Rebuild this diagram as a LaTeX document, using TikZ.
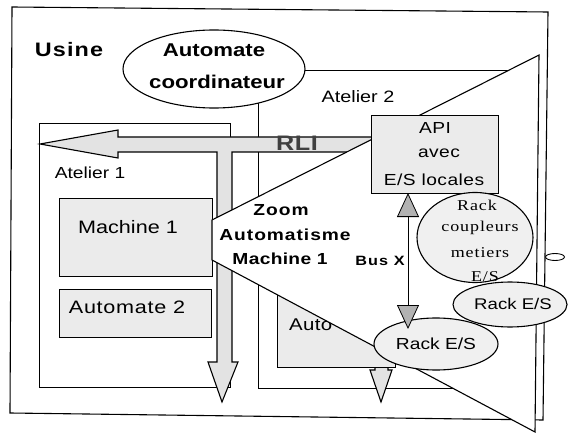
\documentclass[tikz,border=0pt]{standalone}
\usepackage{fontspec}
\setmainfont{Liberation Sans}[FakeStretch=1.2]
\newfontfamily\serfont{Liberation Serif}[FakeStretch=1.2]
\usetikzlibrary{arrows.meta,shapes.geometric}
\newcommand\txf[2]{\fontsize{#1}{#1}\selectfont\addfontfeatures{LetterSpace=#2}}
\begin{document}
\begin{tikzpicture}[x=1pt,y=-1pt,
  ln/.style={line width=1.1pt},
  box/.style={draw, ln, anchor=north west, inner sep=0pt},
  gbox/.style={box, fill=gray!16},
  ell/.style={draw, ln, ellipse, inner sep=0pt},
  tx/.style={inner sep=0pt, font=#1},
  rli/.style={draw, ln, fill=gray!22},
  busx/.style={line width=0.8pt, {Triangle[width=22pt,length=24pt,fill=gray!60]}-{Triangle[width=22pt,length=24pt,fill=gray!60]}}
]
\useasboundingbox (0,0) rectangle (568,433);
% Usine frame
\draw[ln] (12,7) -- (548,12) -- (543,420) -- (10,413) -- cycle;
\node[tx={\bfseries\txf{19.5}{6}}] (usine) at (69,50) {Usine};
% Atelier 2
\node[box, minimum width=275pt, minimum height=318pt] (at2) at (258,70) {};
% Atelier 1
\node[box, minimum width=191pt, minimum height=264pt] (at1) at (39,123) {};
\node[gbox, minimum width=153pt, minimum height=78pt] (m1) at (59,198) {};
\node[gbox, minimum width=152pt, minimum height=48pt] (a2) at (59,289) {};
% coordinator
\node[ell, fill=white, minimum width=182pt, minimum height=78pt] (coord) at (214,69) {};
% RLI bus arrows
\draw[rli] (40,144) -- (118,130) -- (118,137) -- (388,137) -- (388,370) -- (392,370)
  -- (381,402) -- (370,370) -- (375,370) -- (375,152) -- (232,152) -- (232,362)
  -- (238,362) -- (222,402) -- (208,362) -- (217,362) -- (217,152) -- (118,152)
  -- (118,158) -- cycle;
% Automate box in Atelier 2
\node[gbox, minimum width=118pt, minimum height=82pt] (a3) at (277,285) {};
\node[tx={\txf{17}{2}}, anchor=west] (a3t) at (289,325) {Auto};
% zoom cone
\draw[ln, fill=white] (212,220) -- (539,55) -- (535,432) -- (212,260) -- cycle;
% API
\node[gbox, minimum width=127pt, minimum height=78pt] (api) at (371,115) {};
% racks
\node[ell, fill=gray!12, minimum width=116pt, minimum height=90pt] (coupl) at (475,237.5) {};
\node[ell, fill=gray!12, minimum width=114pt, minimum height=45pt] (rack1) at (510,304.5) {};
\node[ell, fill=gray!12, minimum width=124pt, minimum height=52pt] (rack2) at (436,344) {};
\node[ell, fill=white, line width=0.9pt, minimum width=19pt, minimum height=7pt] (pill) at (555,257) {};
% bus X
\coordinate (bxa) at (408,193);
\coordinate (bxb) at (408,329);
\draw[busx] (bxa) -- (bxb);
% texts
\node[tx={\bfseries\txf{18.5}{0}}] (coordt1) at (214,50) {Automate};
\node[tx={\bfseries\txf{18.5}{0}}] (coordt2) at (217,82) {coordinateur};
\node[tx={\txf{16.5}{0}}] (at2t) at (358,97) {Atelier 2};
\node[tx={\txf{16}{0}}] (at1t) at (90,173) {Atelier 1};
\node[tx={\bfseries\txf{21}{3}}, text=black!75] (rlit) at (297,143) {RLI};
\node[tx={\txf{18}{0}}] (m1t) at (128,227) {Machine 1};
\node[tx={\txf{18}{4}}] (a2t) at (127,307) {Automate 2};
\node[tx={\txf{16}{3}}] (apit1) at (435,128) {API};
\node[tx={\txf{16}{3}}] (apit2) at (439,153) {avec};
\node[tx={\txf{16}{3}}] (apit3) at (434,180) {E/S locales};
\node[tx={\bfseries\txf{16}{6}}] (zt1) at (281,210) {Zoom};
\node[tx={\bfseries\txf{16}{6}}] (zt2) at (285,235) {Automatisme};
\node[tx={\bfseries\txf{16}{2}}] (zt3) at (280,259) {Machine 1};
\node[tx={\bfseries\txf{13.5}{8}}] (bust) at (380,261) {Bus X};
\node[tx={\serfont\txf{15}{6}}] (ct1) at (477,205) {Rack};
\node[tx={\serfont\txf{15}{6}}] (ct2) at (480,228) {coupleurs};
\node[tx={\serfont\txf{15}{6}}] (ct3) at (480,253) {metiers};
\node[tx={\serfont\txf{15}{6}}] (ct4) at (485,277) {E/S};
\node[tx={\txf{15.5}{0}}] (r1t) at (513,304) {Rack E/S};
\node[tx={\txf{16}{0}}] (r2t) at (436,344) {Rack E/S};
\end{tikzpicture}
\end{document}
